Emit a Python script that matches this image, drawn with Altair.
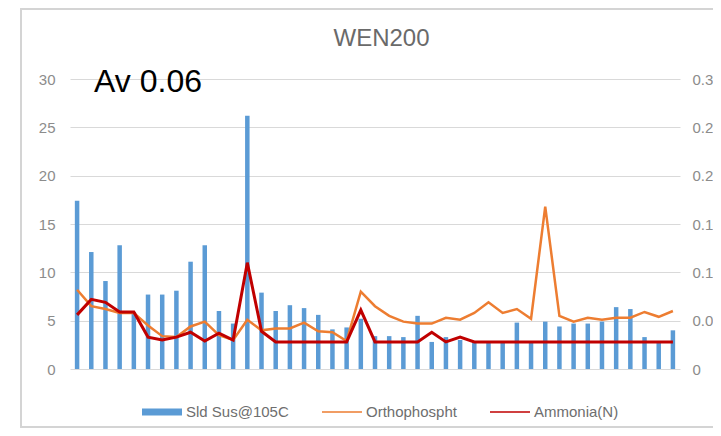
import altair as alt
import pandas as pd

# ---------------- data ----------------
SAMPLES = list(range(1, 44))
SLD_SUS = [17.4, 12.1, 9.1, 12.8, 5.9, 7.7, 7.7, 8.1, 11.1, 12.8,
           6.0, 4.7, 26.2, 7.9, 6.0, 6.6, 6.3, 5.6, 4.1, 4.3,
           5.2, 3.4, 3.4, 3.3, 5.5, 2.8, 3.3, 3.0, 2.8, 2.8,
           2.8, 4.8, 2.8, 4.9, 4.4, 4.7, 4.7, 4.9, 6.4, 6.2,
           3.3, 2.9, 4.0]
ORTHO = [0.082, 0.065, 0.062, 0.058, 0.058, 0.045, 0.034, 0.033, 0.044, 0.049,
         0.035, 0.030, 0.051, 0.040, 0.042, 0.042, 0.048, 0.039, 0.038, 0.029,
         0.080, 0.065, 0.055, 0.049, 0.047, 0.047, 0.053, 0.051, 0.058, 0.069,
         0.058, 0.062, 0.052, 0.168, 0.055, 0.049, 0.053, 0.051, 0.053, 0.053,
         0.059, 0.054, 0.060]
AMMONIA = [0.056, 0.072, 0.069, 0.059, 0.059, 0.033, 0.030, 0.033, 0.038, 0.029,
           0.037, 0.030, 0.110, 0.039, 0.028, 0.028, 0.028, 0.028, 0.028, 0.028,
           0.061, 0.028, 0.028, 0.028, 0.028, 0.038, 0.028, 0.033, 0.028, 0.028,
           0.028, 0.028, 0.028, 0.028, 0.028, 0.028, 0.028, 0.028, 0.028, 0.028,
           0.028, 0.028, 0.028]
SERIES = ["Sld Sus@105C", "Orthophospht", "Ammonia(N)"]
COLORS = ["#5b9bd5", "#ed7d31", "#c00000"]
LEFT_TICKS = [0, 5, 10, 15, 20, 25, 30]
RIGHT_TICKS = [0, 0.05, 0.1, 0.15, 0.2, 0.25, 0.3]
TITLE = "WEN200"
NOTE = ["Av 0.06"]
NOTE_SAMPLE = [6]
NOTE_LEVEL = [28.7]

# ---------------- styling ----------------
FONT = "Liberation Sans"
AXIS_GREY = "#8c8c8c"
GRID = "#d9d9d9"
# legend swatches: wide bar block and thin line strokes
SHAPES = ["M-1,-0.175H1V0.175H-1Z", "M-1,-0.035H1V0.035H-1Z", "M-1,-0.04H1V0.04H-1Z"]

df = pd.DataFrame({"sample": SAMPLES, "sld": SLD_SUS, "ortho": ORTHO, "ammonia": AMMONIA})
note_df = pd.DataFrame({"sample": NOTE_SAMPLE, "sld": NOTE_LEVEL, "label": NOTE})

x = alt.X("sample:O", axis=None,
          scale=alt.Scale(paddingInner=0.683, paddingOuter=0.3415))

base = alt.Chart(df)

lscale = alt.Scale(domain=[0, 30], nice=False)
bars = base.mark_bar(color=COLORS[0]).encode(
    x=x,
    y=alt.Y("sld:Q", scale=lscale,
            axis=alt.Axis(values=LEFT_TICKS, orient="left", title=None, ticks=False,
                          domain=False, labelPadding=15, labelFontSize=15,
                          labelColor=AXIS_GREY, labelFont=FONT,
                          gridColor=GRID, gridWidth=1.2)),
)

note = alt.Chart(note_df).mark_text(fontSize=32, font=FONT, color="#000000",
                                    align="center", baseline="alphabetic").encode(
    x=x, y=alt.Y("sld:Q", scale=lscale), text="label:N")

left = alt.layer(bars, note)

ry = alt.Scale(domain=[0, 0.3], nice=False)
raxis = alt.Axis(values=RIGHT_TICKS, format="~g", orient="right", title=None, grid=False,
                 ticks=False, domain=False, labelPadding=12, labelFontSize=15,
                 labelColor=AXIS_GREY, labelFont=FONT)

ortho = base.mark_line(color=COLORS[1], strokeWidth=2.5).encode(
    x=x, y=alt.Y("ortho:Q", scale=ry, axis=raxis))
ammonia = base.mark_line(color=COLORS[2], strokeWidth=3).encode(
    x=x, y=alt.Y("ammonia:Q", scale=ry, axis=raxis))

right = alt.layer(ortho, ammonia)

frame = base.mark_rect(filled=False, fillOpacity=0, stroke="#d4d4d4", strokeWidth=1.5).encode(
    x=alt.value(-49), x2=alt.value(700), y=alt.value(-70), y2=alt.value(348))

leg = alt.Legend(title=None, orient="none", legendX=72, legendY=313, direction="horizontal",
                 symbolSize=1600, symbolStrokeWidth=0, labelFontSize=15, labelFont=FONT,
                 labelColor="#6e6e6e", labelOffset=4, columnPadding=33, padding=0)

legend_layer = alt.Chart(pd.DataFrame({"series": SERIES})).mark_point(
    filled=True, opacity=1).encode(
    color=alt.Color("series:N", scale=alt.Scale(domain=SERIES, range=COLORS), legend=leg),
    shape=alt.Shape("series:N", scale=alt.Scale(domain=SERIES, range=SHAPES), legend=leg),
).transform_filter("false")

chart = alt.layer(frame, left, right, legend_layer).resolve_scale(y="independent").properties(
    width=610, height=290,
    autosize=alt.AutoSizeParams(type="none"),
    padding={"left": 62, "top": 71, "right": 33, "bottom": 67},
    background="#ffffff",
    title=alt.TitleParams(TITLE, fontSize=24, font=FONT, color="#6a6a6a", fontWeight="normal",
                          anchor="middle", baseline="alphabetic", offset=0, dx=6.5, dy=62),
).configure_view(stroke=None)

chart.save("out.html", embed_options={"renderer": "svg", "actions": False})
